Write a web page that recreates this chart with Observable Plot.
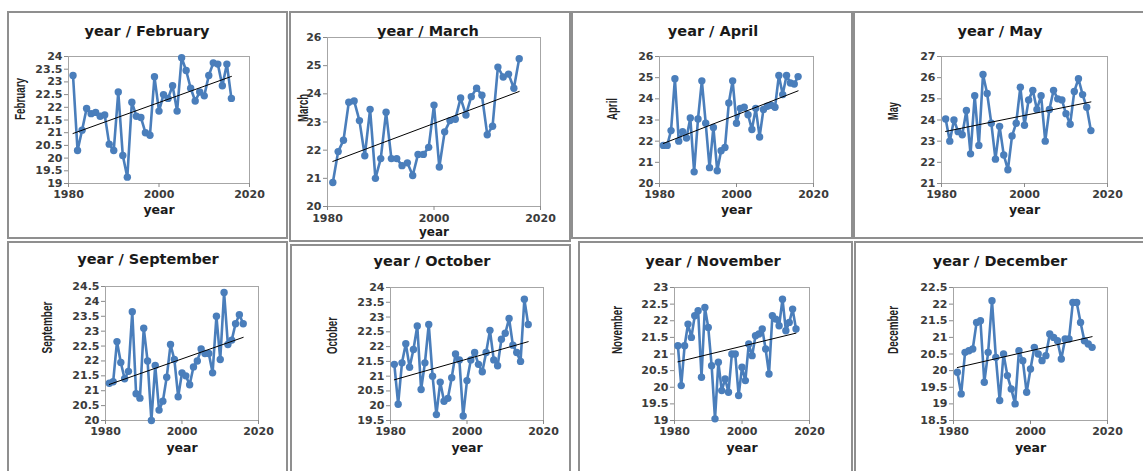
<!DOCTYPE html>
<html><head><meta charset="utf-8">
<script src="https://cdn.jsdelivr.net/npm/d3@7"></script>
<script src="https://cdn.jsdelivr.net/npm/@observablehq/plot@0.6"></script>
<style>
body{margin:0;background:#fff;}
#root{position:relative;width:1143px;height:471px;overflow:hidden;background:#fff;font-family:"DejaVu Sans",Verdana,sans-serif;}
.panel{position:absolute;box-sizing:border-box;border:2px solid #8f8f8f;background:#fff;}
.title{position:absolute;transform:translate(-50%,-50%);font:bold 14.5px "DejaVu Sans",Verdana,sans-serif;color:#1a1a1a;white-space:nowrap;}
.chart{position:absolute;}
</style></head><body><div id="root"></div>
<script>
const years = [1981,1982,1983,1984,1985,1986,1987,1988,1989,1990,1991,1992,1993,1994,1995,1996,1997,1998,1999,2000,2001,2002,2003,2004,2005,2006,2007,2008,2009,2010,2011,2012,2013,2014,2015,2016];

const february  = [23.25,20.3,21.1,21.95,21.75,21.8,21.65,21.7,20.55,20.3,22.6,20.1,19.25,22.2,21.65,21.6,21.0,20.9,23.2,21.85,22.5,22.35,22.85,21.85,23.95,23.45,22.75,22.25,22.6,22.45,23.25,23.75,23.7,22.85,23.7,22.35];
const march     = [20.85,21.95,22.35,23.7,23.75,23.05,21.8,23.45,21.0,21.7,23.35,21.7,21.7,21.45,21.55,21.1,21.85,21.85,22.1,23.6,21.4,22.65,23.05,23.1,23.85,23.25,23.9,24.2,23.95,22.55,22.85,24.95,24.6,24.7,24.2,25.25];
const april     = [21.8,21.8,22.5,24.95,22.0,22.45,22.15,23.1,20.55,23.05,24.85,22.85,20.75,22.65,20.6,21.55,21.7,23.8,24.85,22.85,23.55,23.6,23.25,22.55,23.55,22.2,23.5,23.65,23.7,23.6,25.1,24.2,25.1,24.75,24.7,25.05];
const may       = [24.05,23.0,24.0,23.45,23.3,24.45,22.4,25.15,22.8,26.15,25.25,23.85,22.15,23.7,22.35,21.65,23.25,23.85,25.55,23.75,24.95,25.4,24.5,25.15,23.0,24.5,25.4,25.0,24.95,24.3,23.8,25.35,25.95,25.2,24.6,23.5];
const september = [21.25,21.3,22.65,21.95,21.4,21.65,23.65,20.9,20.75,23.1,22.0,20.0,21.85,20.35,20.65,21.45,22.55,22.05,20.8,21.6,21.5,21.2,21.8,22.0,22.4,22.25,22.25,21.6,23.5,22.05,24.3,22.55,22.7,23.25,23.55,23.25];
const october   = [21.4,20.05,21.45,22.1,21.3,21.9,22.7,20.55,21.45,22.75,21.0,19.7,20.8,20.15,20.25,20.95,21.75,21.55,19.65,20.85,21.55,21.8,21.4,21.15,21.8,22.55,21.55,21.35,22.25,22.45,22.95,22.05,21.8,21.5,23.6,22.75];
const november  = [21.25,20.05,21.25,21.9,21.5,22.15,22.3,20.3,22.4,21.8,20.65,19.05,20.75,19.9,20.25,19.85,21.0,21.0,19.75,20.6,20.2,21.3,20.95,21.55,21.6,21.75,21.15,20.4,22.15,22.05,21.85,22.65,21.7,21.95,22.35,21.75];
const december  = [19.95,19.3,20.55,20.6,20.65,21.45,21.5,19.65,20.55,22.1,20.4,19.1,20.5,19.85,19.45,19.0,20.6,20.3,19.35,20.05,20.7,20.5,20.3,20.45,21.1,21.0,20.9,20.35,20.95,20.95,22.05,22.05,21.45,20.9,20.8,20.7];

const monthNames = ["February","March","April","May","September","October","November","December"];
const xTicks = [1980, 2000, 2020];
const yTicksFebruary  = [19,19.5,20,20.5,21,21.5,22,22.5,23,23.5,24];
const yTicksMarch     = [20,21,22,23,24,25,26];
const yTicksApril     = [20,21,22,23,24,25,26];
const yTicksMay       = [21,22,23,24,25,26,27];
const yTicksSeptember = [20,20.5,21,21.5,22,22.5,23,23.5,24,24.5];
const yTicksOctober   = [19.5,20,20.5,21,21.5,22,22.5,23,23.5,24];
const yTicksNovember  = [19,19.5,20,20.5,21,21.5,22,22.5,23];
const yTicksDecember  = [18.5,19,19.5,20,20.5,21,21.5,22,22.5];

const seriesList = [february, march, april, may, september, october, november, december];
const tickList = [yTicksFebruary, yTicksMarch, yTicksApril, yTicksMay, yTicksSeptember, yTicksOctober, yTicksNovember, yTicksDecember];

// layout: panel box [left, top, width, height], frame [x0, y0, x1, y1], title center, y-label x, y-label length, "year" y
const layout = [
  {box:[7,11,281,228],   frame:[68,56,249,183],   title:[147,31],  ylab:20,  ylen:42, xlab:213, pad:3, xfs:12.5},
  {box:[289,11,282,231], frame:[327,37,540,206],  title:[428,31],  ylab:303, ylen:28, xlab:235, pad:4, xfs:12},
  {box:[571,11,282,228], frame:[659,56,813,183],  title:[713,31],  ylab:612, ylen:22, xlab:213, pad:3, xfs:12.5},
  {box:[853,11,292,228], frame:[941,56,1107,183], title:[1000,31], ylab:893, ylen:18, xlab:213, pad:3, xfs:12.5},
  {box:[7,241,281,232],  frame:[105,286,258,420], title:[148,259], ylab:47,  ylen:52, xlab:451, pad:3, xfs:12.5},
  {box:[290,244,281,229],frame:[390,287,543,420], title:[432,261], ylab:332, ylen:37, xlab:451, pad:3, xfs:12.5},
  {box:[578,241,275,232],frame:[674,287,809,420], title:[713,261], ylab:617, ylen:48, xlab:451, pad:3, xfs:12.5},
  {box:[854,241,291,232],frame:[953,287,1107,420],title:[1000,261],ylab:893, ylen:48, xlab:451, pad:3, xfs:12.5}
];

const blue = "#4a7ebb";
const root = document.getElementById("root");

layout.forEach((L, i) => {
  const [bl, bt, bw, bh] = L.box;
  const [fx0, fy0, fx1, fy1] = L.frame;
  const panel = document.createElement("div");
  panel.className = "panel";
  Object.assign(panel.style, {left: bl + "px", top: bt + "px", width: bw + "px", height: bh + "px"});
  root.appendChild(panel);

  const data = years.map((yr, k) => ({year: yr, value: seriesList[i][k]}));
  const ticks = tickList[i];
  const name = monthNames[i];

  const chart = Plot.plot({
    width: bw, height: bh,
    marginLeft: fx0 - bl, marginRight: (bl + bw) - fx1,
    marginTop: fy0 - bt, marginBottom: (bt + bh) - fy1,
    style: {background: "transparent", fontFamily: "'DejaVu Sans', Verdana, sans-serif", overflow: "visible"},
    x: {domain: [1980, 2020]},
    y: {domain: [ticks[0], ticks[ticks.length - 1]]},
    marks: [
      Plot.frame({stroke: "#a6a6a6", strokeWidth: 1}),
      Plot.axisX({ticks: xTicks, tickFormat: d => String(d), tickSize: 4, tickPadding: L.pad, label: null,
        stroke: "#8a8a8a", fill: "#3b3b3b", fontSize: 11, fontWeight: "bold"}),
      Plot.axisY({ticks: ticks, tickFormat: d => String(d), tickSize: 4, tickPadding: 2, label: null,
        stroke: "#8a8a8a", fill: "#3b3b3b", fontSize: 11, fontWeight: "bold"}),
      Plot.line(data, {x: "year", y: "value", stroke: blue, strokeWidth: 2.6}),
      Plot.dot(data, {x: "year", y: "value", r: 3.7, fill: blue, stroke: "none"}),
      Plot.linearRegressionY(data, {x: "year", y: "value", stroke: "#000", strokeWidth: 1, ci: 0}),
      Plot.text(["year"], {text: d => d, frameAnchor: "bottom", dy: L.xlab - fy1, fontSize: L.xfs, fontWeight: "bold", fill: "#1a1a1a"}),
      Plot.text([name], {text: d => d, frameAnchor: "left", dx: L.ylab - fx0, rotate: -90, fontSize: 14, fontWeight: "bold",
        fontFamily: "'Liberation Sans Narrow', 'Arial Narrow', 'Liberation Sans', Arial, sans-serif", fill: "#222"})
    ]
  });
  // condense the rotated month label like the narrow font of the reference
  chart.querySelectorAll("text").forEach(el => {
    if (el.textContent === name) {
      el.setAttribute("textLength", L.ylen);
      el.setAttribute("lengthAdjust", "spacingAndGlyphs");
    }
  });
  chart.classList.add("chart");
  Object.assign(chart.style, {left: bl + "px", top: bt + "px"});
  root.appendChild(chart);

  const t = document.createElement("div");
  t.className = "title";
  t.textContent = "year / " + name;
  Object.assign(t.style, {left: L.title[0] + "px", top: L.title[1] + "px"});
  root.appendChild(t);
});
</script>
</body></html>
